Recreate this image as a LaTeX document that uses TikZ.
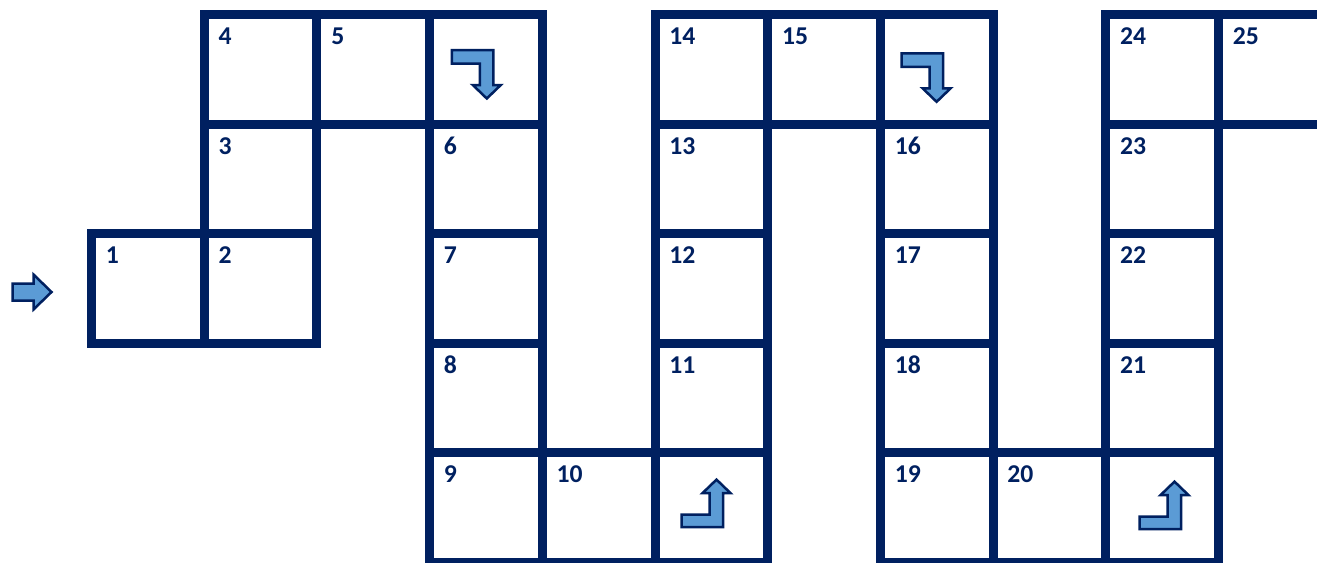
\documentclass[tikz,border=0pt]{standalone}
\usepackage{fontspec}
\setmainfont{Carlito}
\usepackage{tikz}
\usetikzlibrary{calc}
\definecolor{gridblue}{HTML}{002060}
\definecolor{arrowblue}{HTML}{5B9BD5}
\tikzset{
  cell/.style={draw=gridblue,line width=0.18cm},
  num/.style={anchor=base west,inner sep=0pt,text=gridblue,font=\fontsize{14.6pt}{17pt}\selectfont\bfseries},
  turn/.style={draw=gridblue,fill=arrowblue,line width=0.05cm,line join=miter},
}
\begin{document}
\begin{tikzpicture}[x=0.02cm,y=-0.02cm]
\useasboundingbox (0,0) rectangle (1317,562);
\clip (0,0) rectangle (1317,562);
% numbered squares: column/row/number
\foreach \c/\r/\t in {0/2/1,1/2/2,1/1/3,1/0/4,2/0/5,3/1/6,3/2/7,3/3/8,3/4/9,4/4/10,
                      5/3/11,5/2/12,5/1/13,5/0/14,6/0/15,7/1/16,7/2/17,7/3/18,7/4/19,8/4/20,
                      9/3/21,9/2/22,9/1/23,9/0/24,10/0/25} {
  \coordinate (c\t) at ({91.5+112.7*\c},{14.5+109.6*\r});
  \draw[cell] (c\t) rectangle ++(112.7,109.6);
  \node[num] (n\t) at ($(c\t)+(14,30)$) {\t};
}
% squares with turning arrows
\coordinate (d1) at ({91.5+112.7*3},14.5);
\coordinate (d2) at ({91.5+112.7*7},14.5);
\coordinate (u1) at ({91.5+112.7*5},{14.5+109.6*4});
\coordinate (u2) at ({91.5+112.7*9},{14.5+109.6*4});
\draw[cell] (d1) rectangle ++(112.7,109.6);
\draw[cell] (d2) rectangle ++(112.7,109.6);
\draw[cell] (u1) rectangle ++(112.7,109.6);
\draw[cell] (u2) rectangle ++(112.7,109.6);
\draw[turn] ($(d1)+(22.2,35.5)$) -- ++(41.5,0) -- ++(0,35) -- ++(7.5,0) -- ++(-14,13.5)
  -- ++(-14,-13.5) -- ++(7,0) -- ++(0,-21.5) -- ++(-28,0) -- cycle;
\draw[turn] ($(d2)+(21.2,38.8)$) -- ++(41.5,0) -- ++(0,35) -- ++(7.5,0) -- ++(-14,13.5)
  -- ++(-14,-13.5) -- ++(7,0) -- ++(0,-21.5) -- ++(-28,0) -- cycle;
\draw[turn] ($(u1)+(26.5,74.2)$) -- ++(41.5,0) -- ++(0,-34) -- ++(7.5,0) -- ++(-14,-13.5)
  -- ++(-14,13.5) -- ++(7,0) -- ++(0,21.5) -- ++(-28,0) -- cycle;
\draw[turn] ($(u2)+(33.7,76.2)$) -- ++(41.5,0) -- ++(0,-34) -- ++(7.5,0) -- ++(-14,-13.5)
  -- ++(-14,13.5) -- ++(7,0) -- ++(0,21.5) -- ++(-28,0) -- cycle;
% start arrow
\coordinate (start) at (12.5,283.5);
\draw[turn] (start) -- ++(21,0) -- ++(0,-9) -- ++(18,17.5) -- ++(-18,17.5) -- ++(0,-9)
  -- ++(-21,0) -- cycle;
\end{tikzpicture}
\end{document}
